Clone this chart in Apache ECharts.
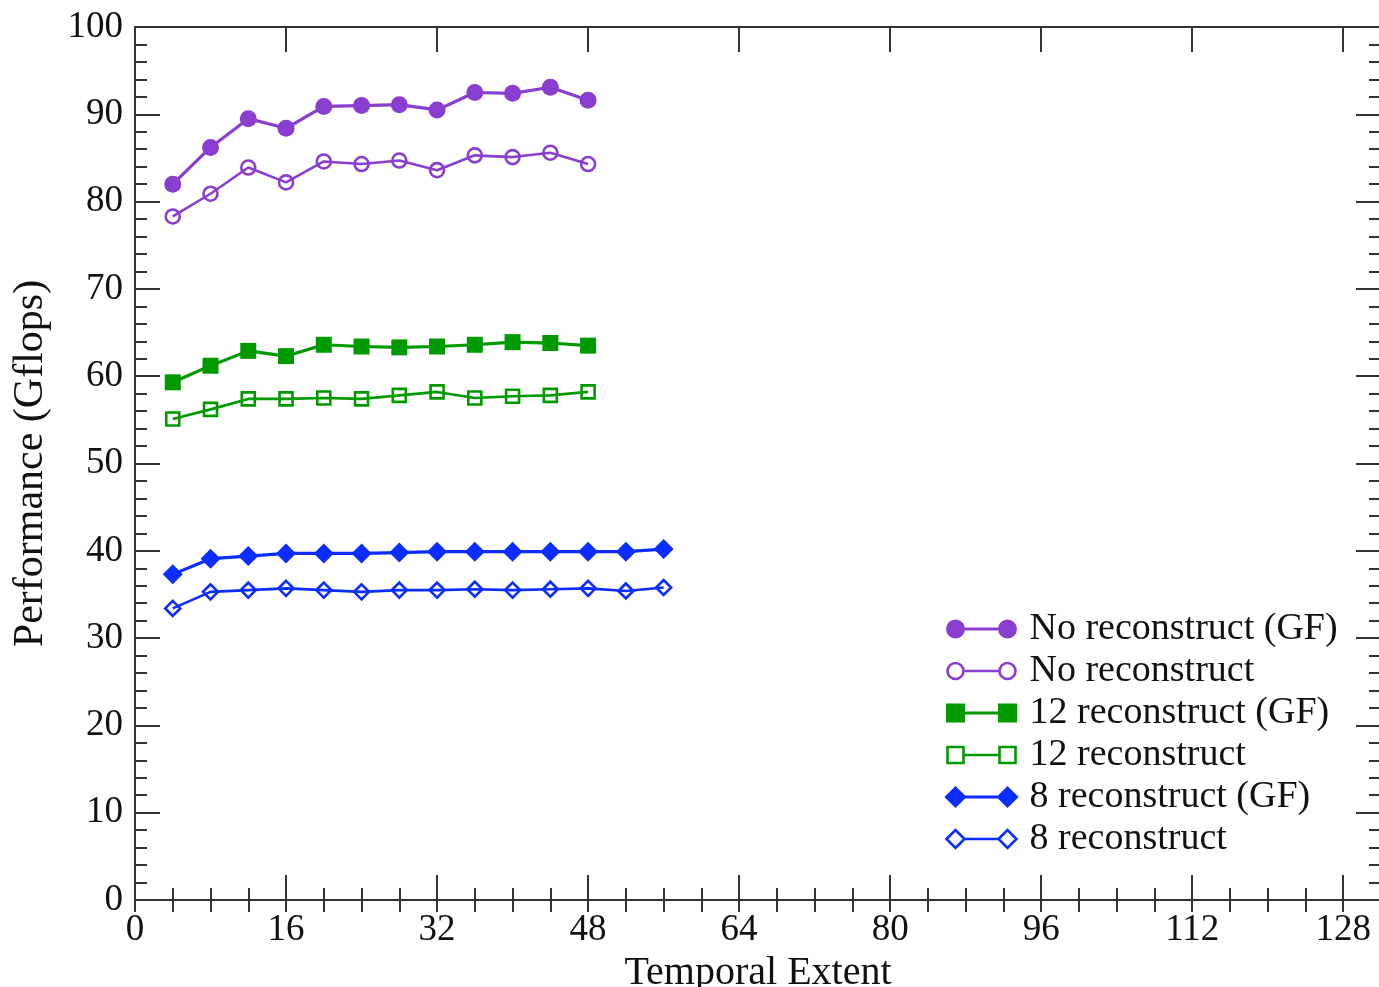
<!DOCTYPE html>
<html>
<head>
<meta charset="utf-8">
<script src="https://cdn.jsdelivr.net/npm/echarts@6/dist/echarts.min.js"></script>
<style>
  html, body { margin: 0; padding: 0; background: #fff; overflow: hidden; }
  #chart { width: 1379px; height: 987px; }
</style>
</head>
<body>
<div id="chart"></div>
<script>
// ==================== DATA ====================
const extentShort = [4, 8, 12, 16, 20, 24, 28, 32, 36, 40, 44, 48];
const extentLong = [4, 8, 12, 16, 20, 24, 28, 32, 36, 40, 44, 48, 52, 56];

const noReconGF = [82.0, 86.2, 89.5, 88.4, 90.9, 91.0, 91.1, 90.5, 92.5, 92.4, 93.1, 91.6];
const noRecon = [78.3, 80.9, 83.9, 82.2, 84.6, 84.3, 84.7, 83.6, 85.3, 85.1, 85.6, 84.3];
const recon12GF = [59.3, 61.2, 62.9, 62.3, 63.6, 63.4, 63.3, 63.4, 63.6, 63.9, 63.8, 63.5];
const recon12 = [55.1, 56.2, 57.4, 57.4, 57.5, 57.4, 57.8, 58.2, 57.5, 57.7, 57.8, 58.2];
const recon8GF = [37.3, 39.1, 39.4, 39.7, 39.7, 39.7, 39.8, 39.9, 39.9, 39.9, 39.9, 39.9, 39.9, 40.2];
const recon8 = [33.4, 35.3, 35.5, 35.7, 35.5, 35.3, 35.5, 35.5, 35.6, 35.5, 35.6, 35.7, 35.4, 35.8];

const seriesNames = ['No reconstruct (GF)', 'No reconstruct', '12 reconstruct (GF)', '12 reconstruct', '8 reconstruct (GF)', '8 reconstruct'];

// ==================== STYLE ====================
const PURPLE = '#8a3ecf', GREEN = '#009a00', BLUE = '#0b2dff';
const FONT = 'Liberation Serif';
const AXIS = '#333';

const pairs = (xs, ys) => ys.map((v, i) => [xs[i], v]);

function filled(name, xs, ys, color, symbol, size) {
  return {
    name, type: 'line', data: pairs(xs, ys), symbol, symbolSize: size,
    lineStyle: { color, width: 3.2 }, itemStyle: { color, borderWidth: 0 },
    z: 3, animation: false
  };
}
function hollow(name, xs, ys, color, symbol, size) {
  return {
    name, type: 'line', data: pairs(xs, ys), symbol, symbolSize: size,
    lineStyle: { color, width: 2.6 },
    itemStyle: { color: 'rgba(0,0,0,0)', borderColor: color, borderWidth: 2.6 },
    z: 2, animation: false
  };
}

// legend icons: marker, connecting line, marker
const ICON_CIRCLE = 'path://M1,9a8,8 0 1,0 16,0a8,8 0 1,0 -16,0Z M17,9H53 M53,9a8,8 0 1,0 16,0a8,8 0 1,0 -16,0Z M0,0 M78,18';
const ICON_RECT = 'path://M1,1H17V17H1Z M17,9H53 M53,1H69V17H53Z M0,0 M78,18';
const ICON_DIAMOND = 'path://M0,9L9,0L18,9L9,18Z M18,9H52 M52,9L61,0L70,9L61,18Z M0,0 M78,18';
const legendIcons = [ICON_CIRCLE, ICON_CIRCLE, ICON_RECT, ICON_RECT, ICON_DIAMOND, ICON_DIAMOND];
const legendColors = [PURPLE, PURPLE, GREEN, GREEN, BLUE, BLUE];

const chart = echarts.init(document.getElementById('chart'));

const tickAxis = (pos, interval, len, extra) => Object.assign({
  type: 'value', position: pos, min: 0, interval,
  axisLine: { show: true, onZero: false, lineStyle: { color: AXIS, width: 2 } },
  axisTick: { show: true, inside: true, length: len, lineStyle: { color: AXIS, width: 2 } },
  axisLabel: { show: false },
  splitLine: { show: false }
}, extra);

chart.setOption({
  backgroundColor: '#fff',
  animation: false,
  grid: { left: 135, right: -2, top: 27, bottom: 87, containLabel: false, outerBoundsMode: 'none' },
  xAxis: [
    tickAxis('bottom', 16, 25, {
      max: 132, name: 'Temporal Extent', nameLocation: 'middle', nameGap: 50,
      nameTextStyle: { fontFamily: FONT, fontSize: 40, color: '#111' },
      axisLabel: { show: true, margin: 12, fontFamily: FONT, fontSize: 37, color: '#111', showMaxLabel: false,
        formatter: v => (v > 128 ? '' : v) }
    }),
    tickAxis('bottom', 4, 12, { max: 132, axisLine: { show: false } }),
    tickAxis('top', 16, 25, { max: 132 }),
    tickAxis('top', 4, 12, { max: 132, axisLine: { show: false } })
  ],
  yAxis: [
    tickAxis('left', 10, 25, {
      max: 100, name: 'Performance (Gflops)', nameLocation: 'middle', nameGap: 83,
      nameTextStyle: { fontFamily: FONT, fontSize: 42, color: '#111' },
      minorTick: { show: true, splitNumber: 5, length: 12, lineStyle: { color: AXIS, width: 2 } },
      axisLabel: { show: true, margin: 12, fontFamily: FONT, fontSize: 37, color: '#111' }
    }),
    tickAxis('right', 10, 25, {
      max: 100,
      minorTick: { show: true, splitNumber: 5, length: 12, lineStyle: { color: AXIS, width: 2 } }
    })
  ],
  legend: {
    orient: 'vertical', left: 945, top: 610, itemGap: 4, padding: 0,
    itemWidth: 78, itemHeight: 18,
    textStyle: { fontFamily: FONT, fontSize: 38, color: '#111' },
    data: seriesNames.map((name, i) => ({
      name, icon: legendIcons[i],
      itemStyle: i % 2 === 0
        ? { color: legendColors[i], borderColor: legendColors[i], borderWidth: 3 }
        : { color: 'rgba(0,0,0,0)', borderColor: legendColors[i], borderWidth: 2.6 }
    }))
  },
  series: [
    filled(seriesNames[0], extentShort, noReconGF, PURPLE, 'circle', 17),
    hollow(seriesNames[1], extentShort, noRecon, PURPLE, 'circle', 14),
    filled(seriesNames[2], extentShort, recon12GF, GREEN, 'rect', 16),
    hollow(seriesNames[3], extentShort, recon12, GREEN, 'rect', 13),
    filled(seriesNames[4], extentLong, recon8GF, BLUE, 'diamond', 20),
    hollow(seriesNames[5], extentLong, recon8, BLUE, 'diamond', 15)
  ]
});
</script>
</body>
</html>
